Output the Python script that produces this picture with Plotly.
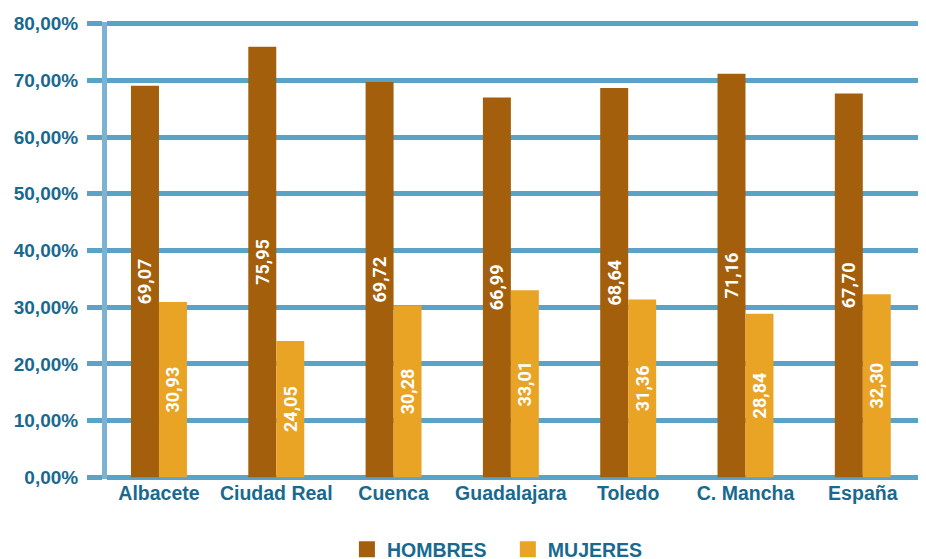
import plotly.graph_objects as go

categories = ["Albacete", "Ciudad Real", "Cuenca", "Guadalajara", "Toledo", "C. Mancha", "España"]
hombres = [69.07, 75.95, 69.72, 66.99, 68.64, 71.16, 67.70]
mujeres = [30.93, 24.05, 30.28, 33.01, 31.36, 28.84, 32.30]
y_ticks = [0, 10, 20, 30, 40, 50, 60, 70, 80]
y_tick_labels = ["0,00%", "10,00%", "20,00%", "30,00%", "40,00%", "50,00%", "60,00%", "70,00%", "80,00%"]

TXT = "#19698F"
GRID = "#5AA3C6"
AXIS = "#7DB2D3"

series = [("HOMBRES", hombres, "#A35F0B"), ("MUJERES", mujeres, "#E9A325")]

fig = go.Figure()
for name, vals, col in series:
    fig.add_trace(go.Bar(
        x=categories, y=vals, name=name, marker_color=col, marker_line_width=0,
        texttemplate="%{y:.2f}", textposition="inside", insidetextanchor="middle",
        textangle=-90, textfont=dict(family="Roboto", size=18, color="white", weight="bold"),
        showlegend=False, legendgroup=name,
    ))
# legend entries with larger square swatches
for i, (name, vals, col) in enumerate(series):
    fig.add_trace(go.Scatter(
        x=[None], y=[None], mode="markers", legendgroup=name,
        name=name + ("\u00a0\u00a0\u00a0" if i == 0 else ""),
        marker=dict(symbol="square", size=16, color=col, line_width=0),
    ))

fig.update_layout(
    width=926, height=559,
    margin=dict(l=99, r=0, t=14, b=88, autoexpand=False),
    paper_bgcolor="white", plot_bgcolor="white",
    barmode="group", bargap=0.523, bargroupgap=0,
    separators=",.",
    font=dict(family="Liberation Sans, Arial", color=TXT),
    legend=dict(orientation="h", xref="container", yref="container",
                x=0.366, xanchor="left", y=0.031, yanchor="middle",
                font=dict(size=19.5, color=TXT, weight="bold"), itemwidth=30,
                traceorder="normal"),
    showlegend=True,
)
fig.update_yaxes(
    range=[-0.3, 80.3], tickvals=y_ticks, ticktext=y_tick_labels,
    showgrid=True, gridcolor=GRID, gridwidth=5, zeroline=False,
    ticks="outside", ticklen=15, tickwidth=5, tickcolor=GRID,
    ticklabelstandoff=5,
    showline=True, linecolor=AXIS, linewidth=5, automargin=False,
    tickfont=dict(size=19, color=TXT, weight="bold"),
)
fig.update_xaxes(
    range=[-0.443, 6.607],
    showgrid=False, showline=False, ticks="", automargin=False,
    tickfont=dict(size=19.5, color=TXT, weight="bold"),
)

fig.write_html("out.html")
